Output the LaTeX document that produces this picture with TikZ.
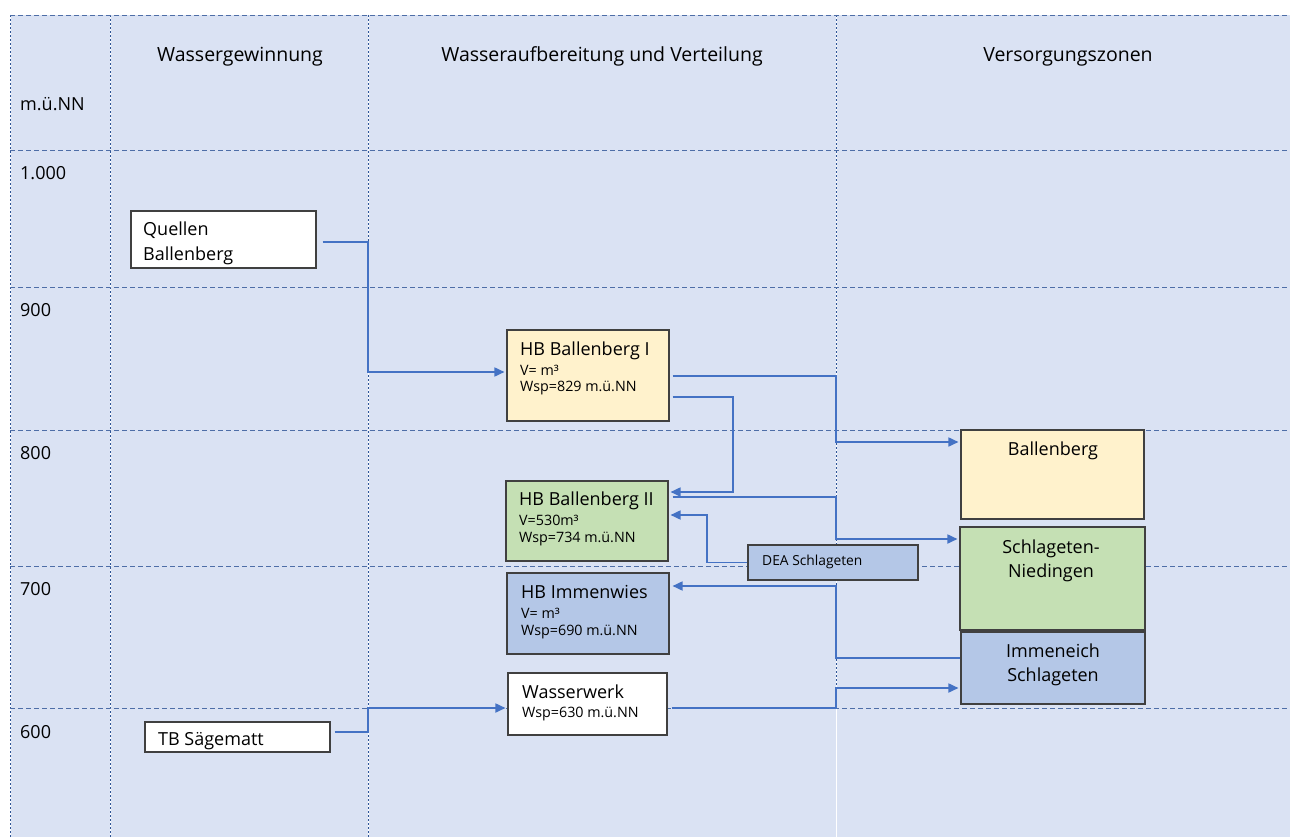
\documentclass[tikz,border=0pt]{standalone}
\usepackage{fontspec}
\setmainfont{Open Sans}
\usetikzlibrary{arrows.meta,calc}
\definecolor{bg}{RGB}{218,226,243}
\definecolor{gridc}{RGB}{47,85,151}
\definecolor{connc}{RGB}{68,114,196}
\definecolor{fyellow}{RGB}{255,242,204}
\definecolor{fgreen}{RGB}{197,224,180}
\definecolor{fblue}{RGB}{180,199,231}
\definecolor{bord}{RGB}{64,64,64}
\begin{document}
\begin{tikzpicture}[x=1pt,y=-1pt,
  box/.style={draw=bord, line width=1.1pt, inner sep=0pt},
  conn/.style={draw=connc, line width=1.7pt, -{Triangle[length=10pt,width=9pt]}},
  vgridw/.style={draw=white, line width=1pt},
  vgrid/.style={draw=gridc, line width=1pt, dash pattern=on 2pt off 2pt},
  hgrid/.style={draw=gridc!85, line width=0.9pt, dash pattern=on 5pt off 3pt},
  big/.style={inner sep=0pt, font=\fontsize{19.5}{23}\selectfont},
  txt/.style={inner sep=0pt, font=\fontsize{18}{24}\selectfont},
  small/.style={inner sep=0pt, font=\fontsize{14.3}{16}\selectfont},
  mid/.style={inner sep=0pt, font=\fontsize{13.8}{15}\selectfont}]
\useasboundingbox (0,0) rectangle (1290,837);
% background
\fill[bg] (10,15) rectangle (1290,837);
% grid
\foreach \x in {10,110,368} {
  \draw[vgridw] (\x,15) -- (\x,837);
  \draw[vgrid] (\x,15) -- (\x,837);
}
\draw[vgridw] (836,15) -- (836,837);
\draw[vgrid] (836,15) -- (836,708);
\foreach \y in {15,150,287,430,566,708} {
  \draw[hgrid] (10,\y) -- (1290,\y);
}
% headers
\node[big, anchor=base] (h1) at (240,62) {Wassergewinnung};
\node[big, anchor=base] (h2) at (602,62) {Wasseraufbereitung und Verteilung};
\node[big, anchor=base] (h3) at (1068,62) {Versorgungszonen};
\node[txt, anchor=base west] (unit) at (20,111) {m.ü.NN};
\node[txt, anchor=base west] (r1000) at (20,180) {1.000};
\node[txt, anchor=base west] (r900) at (20,316) {900};
\node[txt, anchor=base west] (r800) at (20,459) {800};
\node[txt, anchor=base west] (r700) at (20,595) {700};
\node[txt, anchor=base west] (r600) at (20,738) {600};
% boxes
\node[box, fill=white, minimum width=185pt, minimum height=57pt] (q) at (223.5,239.5) {};
\node[txt, anchor=base west] (qt1) at (143,236) {Quellen};
\node[txt, anchor=base west] (qt2) at (143,260) {Ballenberg};

\node[box, fill=white, minimum width=185pt, minimum height=30pt] (tb) at (237.5,737) {};
\node[txt, anchor=base west] (tbt) at (158,745) {TB Sägematt};

\node[box, fill=fyellow, minimum width=162pt, minimum height=91pt] (hb1) at (588,375.5) {};
\node[txt, anchor=base west] (hb1t1) at (520,355) {HB Ballenberg I};
\node[small, anchor=base west] (hb1t2) at (520,375) {V= m³};
\node[small, anchor=base west] (hb1t3) at (520,391) {Wsp=829 m.ü.NN};

\node[box, fill=fgreen, minimum width=162pt, minimum height=80pt] (hb2) at (587,521) {};
\node[txt, anchor=base west] (hb2t1) at (519,505) {HB Ballenberg II};
\node[small, anchor=base west] (hb2t2) at (519,525) {V=530m³};
\node[small, anchor=base west] (hb2t3) at (519,542) {Wsp=734 m.ü.NN};

\node[box, fill=fblue, minimum width=170pt, minimum height=35pt] (dea) at (833,562.5) {};
\node[mid, anchor=base west] (deat) at (762,565) {DEA Schlageten};

\node[box, fill=fblue, minimum width=162pt, minimum height=81pt] (hbi) at (588,613.5) {};
\node[txt, anchor=base west] (hbit1) at (521,598) {HB Immenwies};
\node[small, anchor=base west] (hbit2) at (521,618) {V= m³};
\node[small, anchor=base west] (hbit3) at (521,635) {Wsp=690 m.ü.NN};

\node[box, fill=white, minimum width=159pt, minimum height=62pt] (ww) at (587.5,704) {};
\node[txt, anchor=base west] (wwt1) at (522,698) {Wasserwerk};
\node[small, anchor=base west] (wwt2) at (522,717) {Wsp=630 m.ü.NN};

\node[box, fill=fyellow, minimum width=183pt, minimum height=89pt] (zb) at (1052.5,474.5) {};
\node[txt, anchor=base] (zbt) at (1053,455) {Ballenberg};

\node[box, fill=fgreen, minimum width=185pt, minimum height=103pt] (zs) at (1052.5,578.5) {};
\node[txt, anchor=base] (zst1) at (1051,553) {Schlageten-};
\node[txt, anchor=base] (zst2) at (1051,577) {Niedingen};

\node[box, fill=fblue, minimum width=184pt, minimum height=72pt] (zi) at (1053,668) {};
\node[txt, anchor=base] (zit1) at (1053,657) {Immeneich};
\node[txt, anchor=base] (zit2) at (1053,681) {Schlageten};
% connectors
\draw[conn] ($(q.east)+(6,2.5)$) -- (368,242) |- ($(hb1.west)+(-2,-3.5)$);
\draw[conn] ($(hb1.east)+(3,0.5)$) -- (836,376) |- ($(zb.west)+(-2,-32.5)$);
\draw[conn] ($(hb1.east)+(3,21.5)$) -- (733,397) |- ($(hb2.east)+(2,-29)$);
\draw[conn] ($(hb2.east)+(4,-24)$) -- (836,497) |- ($(zs.west)+(-2,-39.5)$);
\draw[conn] (dea.west) -- (707,562.5) |- ($(hb2.east)+(2,-6)$);
\draw[conn] ($(zi.west)+(0,-10)$) -- (836,658) |- ($(hbi.east)+(3,-27.5)$);
\draw[conn] ($(ww.east)+(4,4)$) -- (836,708) |- ($(zi.west)+(-2,20)$);
\draw[conn] ($(tb.east)+(4,-5)$) -- (368,732) |- ($(ww.west)+(-2,4)$);
\end{tikzpicture}
\end{document}
